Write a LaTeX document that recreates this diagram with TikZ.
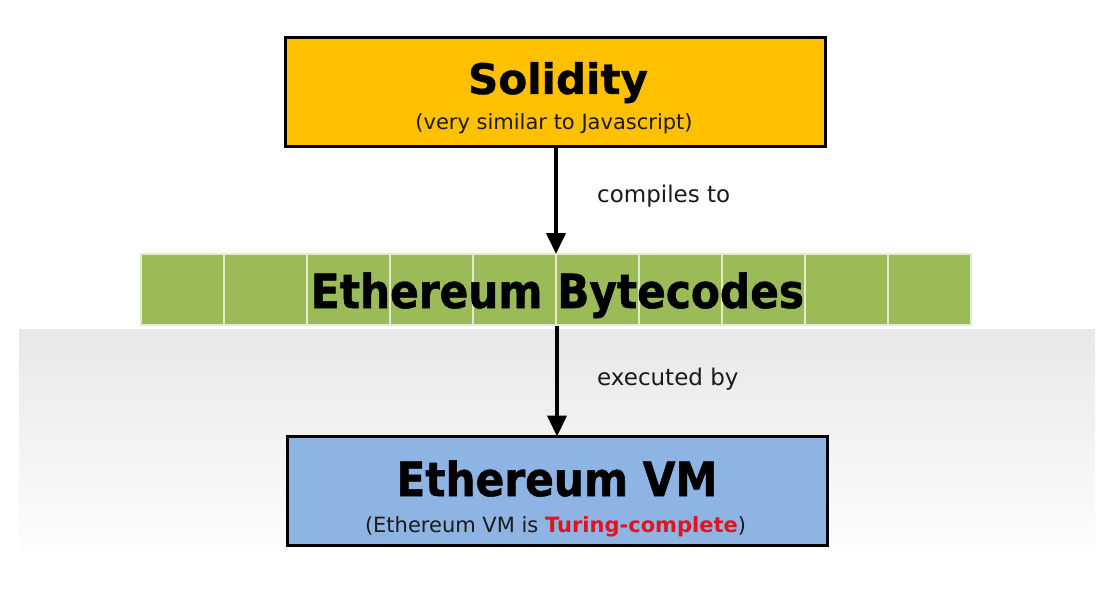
\documentclass[tikz,border=0pt]{standalone}
\usepackage{fontspec}
\setmainfont{DejaVu Sans}
\newfontfamily\condtitlefont[FakeBold=1.1]{DejaVu Sans Condensed Bold}
\newfontfamily\soltitlefont[FakeBold=0.9]{DejaVu Sans Bold}
\usetikzlibrary{arrows.meta}
\definecolor{solyellow}{HTML}{FFC000}
\definecolor{bcgreen}{HTML}{9BBB59}
\definecolor{bcline}{HTML}{E2ECC8}
\definecolor{vmblue}{HTML}{8DB4E2}
\definecolor{turred}{HTML}{E0141E}
\definecolor{txtgray}{HTML}{1A1A1A}
\definecolor{shadetop}{HTML}{E7E8EA}
\definecolor{shadebot}{HTML}{FDFDFD}
\tikzset{
  bigbox/.style={draw=black, line width=3pt, minimum width=540pt, minimum height=109pt, inner sep=0pt, outer sep=0pt},
  cellbox/.style={draw=bcline, fill=bcgreen, line width=1.6pt, minimum width=83pt, minimum height=71pt, inner sep=0pt, outer sep=0pt},
  titletext/.style={inner sep=0pt, anchor=base, font=\fontsize{47}{54}\selectfont\condtitlefont, text=black},
  soltext/.style={inner sep=0pt, anchor=base, font=\fontsize{42}{48}\selectfont\soltitlefont, text=black},
  subtext/.style={inner sep=0pt, anchor=base, font=\fontsize{21}{26}\selectfont, text=txtgray},
  labeltext/.style={inner sep=0pt, anchor=base west, font=\fontsize{23}{28}\selectfont, text=txtgray},
  flowarrow/.style={line width=4pt, -{Triangle[width=19pt,length=21pt]}}
}
\begin{document}
\begin{tikzpicture}[x=1pt,y=-1pt]
\useasboundingbox (0,0) rectangle (1102,596);
\fill[white] (0,0) rectangle (1102,596);
\shade[top color=shadetop, bottom color=shadebot] (19,329) rectangle (1095,550);

% Solidity box
\node[bigbox, fill=solyellow] (sol) at (555.5,92) {};
\node[soltext] (soltitle) at (558,94) {Solidity};
\node[subtext] (solsub) at (554,130) {(very similar to Javascript)};

% Bytecodes bar
\foreach \i in {0,...,9} {
  \node[cellbox] (c\i) at (182.5+83*\i,289.5) {};
}
\coordinate (bartop) at (556,254);
\coordinate (barbot) at (557,326);
\node[titletext] (bctitle) at (557.5,308) {Ethereum Bytecodes};

% EVM box
\node[bigbox, fill=vmblue] (evm) at (557.5,491) {};
\node[titletext] (evmtitle) at (557,496) {Ethereum VM};
\node[subtext] (evmsub) at (555.5,532) {(Ethereum VM is \textbf{\textcolor{turred}{Turing-complete}})};

% Arrows
\draw[flowarrow] (sol.south -| bartop) -- (bartop);
\draw[flowarrow] (barbot) -- (evm.north -| barbot);

% Labels
\node[labeltext] (lbl1) at (597,203) {compiles to};
\node[labeltext] (lbl2) at (597,385) {executed by};
\end{tikzpicture}
\end{document}
